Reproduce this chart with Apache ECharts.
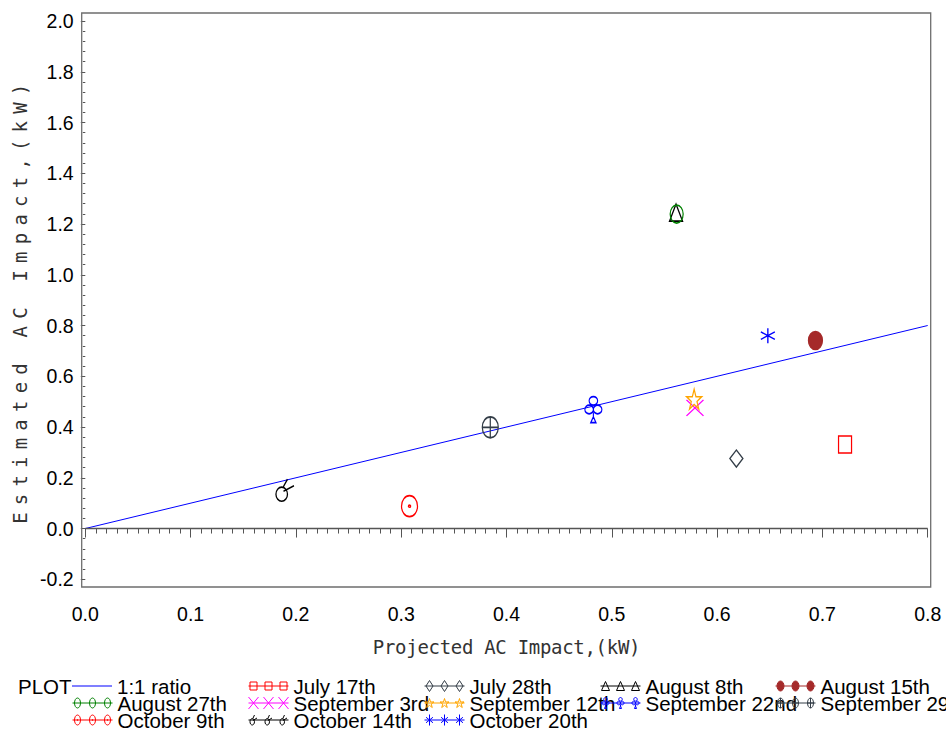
<!DOCTYPE html>
<html>
<head>
<meta charset="utf-8">
<script src="https://cdn.jsdelivr.net/npm/echarts@6/dist/echarts.min.js"></script>
<style>
  html, body { margin: 0; padding: 0; background: #fff; }
  #chart { width: 946px; height: 731px; }
</style>
</head>
<body>
<div id="chart"></div>
<script>
// Estimated vs projected AC impact (kW) for each test day, with the 1:1 reference line.
const dayNames = ['July 17th', 'July 28th', 'August 8th', 'August 15th', 'August 27th',
  'September 3rd', 'September 12th', 'September 22nd', 'September 29th',
  'October 9th', 'October 14th', 'October 20th'];
const projectedKW = [0.7215, 0.6183, 0.561, 0.6934, 0.5616, 0.579, 0.5782, 0.4825, 0.3846, 0.3079, 0.1896, 0.6482];
const estimatedKW = [0.331, 0.2758, 1.245, 0.741, 1.239, 0.4755, 0.510, 0.469, 0.3987, 0.0882, 0.151, 0.760];

const ratioName = '1:1 ratio';
const ratioX = [0, 0.8];
const ratioY = [0, 0.8];

const xTickLabels = ['0.0', '0.1', '0.2', '0.3', '0.4', '0.5', '0.6', '0.7', '0.8'];
const yTickLabels = ['-0.2', '0.0', '0.2', '0.4', '0.6', '0.8', '1.0', '1.2', '1.4', '1.6', '1.8', '2.0'];

const xTitle = 'Projected AC Impact,(kW)';
const yTitle = 'Estimated AC Impact,(kW)';

// ---- marker styling per day ----
const markerShape = ['square', 'diamond', 'triangle', 'dot', 'ring', 'cross', 'star', 'club', 'ringPlus', 'ringDot', 'hook', 'asterisk'];
const markerColor = ['#ff0000', '#333d47', '#000000', '#a52a2a', '#008000', '#ff00ff', '#ffa500', '#0000ff', '#333d47', '#ff0000', '#000000', '#0000ff'];
const markerSize = [[13, 17], [13, 17], [13, 17], [14, 18], [13, 18], [17, 16], [15, 20], [17, 26], [16, 21], [16, 21], [18, 22], [14, 15]];
const legendMarkSize = {
  square: [7, 8], diamond: [7, 11], triangle: [8, 9], dot: [7, 10], ring: [6, 10], cross: [10, 12],
  star: [9, 9], club: [7, 11], ringPlus: [6, 10], ringDot: [6, 10], hook: [7, 10], asterisk: [8, 11]
};

// Shapes in a unit box: 'e' = ellipse (cx, cy, rx, ry), 'p' = polyline (points, closed)
const SHAPES = {
  square: [['p', [0, 0, 1, 0, 1, 1, 0, 1], 1]],
  diamond: [['p', [0.5, 0, 1, 0.5, 0.5, 1, 0, 0.5], 1]],
  triangle: [['p', [0.5, 0, 1, 1, 0, 1], 1]],
  dot: [['e', 0.5, 0.5, 0.5, 0.5]],
  ring: [['e', 0.5, 0.5, 0.5, 0.5]],
  cross: [['p', [0, 0, 1, 1]], ['p', [1, 0, 0, 1]]],
  star: [['p', [0.5, 0, 0.618, 0.382, 1, 0.382, 0.691, 0.618, 0.809, 1, 0.5, 0.764, 0.191, 1, 0.309, 0.618, 0, 0.382, 0.382, 0.382], 1]],
  club: [['e', 0.5, 0.165, 0.25, 0.165], ['e', 0.25, 0.5, 0.25, 0.165], ['e', 0.75, 0.5, 0.25, 0.165],
         ['p', [0.5, 0.62, 0.5, 0.8]], ['p', [0.35, 1, 0.5, 0.78, 0.65, 1], 1]],
  ringPlus: [['e', 0.5, 0.5, 0.5, 0.5], ['p', [0.5, 0, 0.5, 1]], ['p', [0, 0.5, 1, 0.5]]],
  ringDot: [['e', 0.5, 0.5, 0.5, 0.5], ['e', 0.5, 0.5, 0.07, 0.05]],
  hook: [['e', 0.32, 0.68, 0.32, 0.32], ['p', [0.4, 0.36, 0.64, 0]], ['p', [0.42, 0.55, 1, 0.3]]],
  asterisk: [['p', [0.5, 0, 0.5, 1]], ['p', [0.07, 0.25, 0.93, 0.75]], ['p', [0.93, 0.25, 0.07, 0.75]]]
};

function f(n) { return +n.toFixed(2); }

function shapePath(prims, x0, y0, w, h) {
  let d = '';
  prims.forEach(function (p) {
    if (p[0] === 'e') {
      const cx = x0 + p[1] * w, cy = y0 + p[2] * h, rx = p[3] * w, ry = p[4] * h;
      const kx = rx * 0.5523, ky = ry * 0.5523;
      d += 'M' + f(cx) + ',' + f(cy - ry) +
        'C' + f(cx + kx) + ',' + f(cy - ry) + ' ' + f(cx + rx) + ',' + f(cy - ky) + ' ' + f(cx + rx) + ',' + f(cy) +
        'C' + f(cx + rx) + ',' + f(cy + ky) + ' ' + f(cx + kx) + ',' + f(cy + ry) + ' ' + f(cx) + ',' + f(cy + ry) +
        'C' + f(cx - kx) + ',' + f(cy + ry) + ' ' + f(cx - rx) + ',' + f(cy + ky) + ' ' + f(cx - rx) + ',' + f(cy) +
        'C' + f(cx - rx) + ',' + f(cy - ky) + ' ' + f(cx - kx) + ',' + f(cy - ry) + ' ' + f(cx) + ',' + f(cy - ry) + 'Z';
    } else {
      const pts = p[1];
      for (let i = 0; i < pts.length; i += 2) {
        d += (i ? 'L' : 'M') + f(x0 + pts[i] * w) + ',' + f(y0 + pts[i + 1] * h);
      }
      if (p[2]) d += 'Z';
    }
  });
  return d;
}

// legend sample: a short line with three small markers on it
function legendIcon(shape) {
  const sz = legendMarkSize[shape];
  let d = 'M0,6L40,6';
  [5, 20, 35].forEach(function (cx) {
    d += shapePath(SHAPES[shape], cx - sz[0] / 2, 6 - sz[1] / 2, sz[0], sz[1]);
  });
  return 'path://' + d;
}

const FONT = '"Liberation Sans", Arial, sans-serif';
const MONO = '"DejaVu Sans Mono", monospace';

const xMin = parseFloat(xTickLabels[0]);
const xMax = parseFloat(xTickLabels[xTickLabels.length - 1]);
const xStep = parseFloat(xTickLabels[1]) - xMin;
const yMin = parseFloat(yTickLabels[0]);
const yMax = parseFloat(yTickLabels[yTickLabels.length - 1]);
const yStep = parseFloat(yTickLabels[1]) - yMin;

const series = [{
  name: ratioName,
  type: 'line',
  data: ratioX.map(function (x, i) { return [x, ratioY[i]]; }),
  symbol: 'none',
  clip: false,
  lineStyle: { color: '#0000ff', width: 1 },
  itemStyle: { color: '#0000ff' },
  z: 2,
  markLine: {
    silent: true,
    symbol: ['none', 'none'],
    label: { show: false },
    lineStyle: { color: '#555', width: 1.3, type: 'solid' },
    data: [{ yAxis: 0 }]
  }
}];

dayNames.forEach(function (name, i) {
  const shape = markerShape[i];
  const filled = shape === 'dot';
  series.push({
    name: name,
    type: 'scatter',
    data: [[projectedKW[i], estimatedKW[i]]],
    symbol: 'path://' + shapePath(SHAPES[shape], 0, 0, 100, 100),
    symbolSize: markerSize[i],
    itemStyle: {
      color: filled ? markerColor[i] : 'transparent',
      borderColor: markerColor[i],
      borderWidth: 1.4,
      opacity: 1
    },
    z: 3
  });
});

// legend: five fixed columns, filled row by row
const legendNames = [ratioName].concat(dayNames);
const colLeft = [72, 248, 424, 600, 775];
const rowTop = [675.5, 692.5, 709.5];
const legends = legendNames.map(function (name, k) {
  let item;
  if (k === 0) {
    item = { name: name, icon: 'path://M0,5.5L40,5.5L40,6.5L0,6.5Z',
      itemStyle: { color: '#0000ff', borderWidth: 0 } };
  } else {
    const i = k - 1;
    const shape = markerShape[i];
    item = {
      name: name,
      icon: legendIcon(shape),
      itemStyle: {
        color: shape === 'dot' ? markerColor[i] : 'transparent',
        borderColor: markerColor[i],
        borderWidth: 1
      }
    };
  }
  return {
    orient: 'horizontal',
    left: colLeft[k % 5],
    top: rowTop[Math.floor(k / 5)],
    padding: 0,
    itemGap: 0,
    itemWidth: 40,
    itemHeight: 12,
    symbolKeepAspect: true,
    selectedMode: false,
    textStyle: { fontFamily: FONT, fontSize: 20.5, color: '#000' },
    data: [item]
  };
});

const chart = echarts.init(document.getElementById('chart'), null, { renderer: 'svg' });

chart.setOption({
  animation: false,
  backgroundColor: '#fff',
  grid: { left: 85.3, top: 21, width: 842.4, height: 558.3, containLabel: false },
  xAxis: {
    type: 'value',
    min: xMin, max: xMax, interval: xStep,
    offset: 7.7,
    axisLine: { show: false },
    axisTick: { show: true, length: 9, lineStyle: { color: '#555', width: 1 } },
    minorTick: { show: true, splitNumber: 10, length: 5, lineStyle: { color: '#555', width: 1 } },
    splitLine: { show: false },
    axisLabel: {
      margin: 17, color: '#000', fontFamily: FONT, fontSize: 19.5,
      formatter: function (v) { return xTickLabels[Math.round((v - xMin) / xStep)]; }
    },
    name: xTitle,
    nameLocation: 'middle',
    nameGap: 50,
    nameTextStyle: { fontFamily: MONO, fontSize: 19, color: '#333' }
  },
  yAxis: {
    type: 'value',
    min: yMin, max: yMax, interval: yStep,
    offset: 3.6,
    axisLine: { show: false },
    axisTick: { show: true, length: 4.5, lineStyle: { color: '#555', width: 1 } },
    minorTick: { show: true, splitNumber: 5, length: 2.5, lineStyle: { color: '#555', width: 1 } },
    splitLine: { show: false },
    axisLabel: {
      margin: 8, color: '#000', fontFamily: FONT, fontSize: 19.5,
      formatter: function (v) { return yTickLabels[Math.round((v - yMin) / yStep)]; }
    },
    name: yTitle,
    nameLocation: 'middle',
    nameRotate: 90,
    nameGap: 50,
    nameTextStyle: { fontFamily: MONO, fontSize: 19, color: '#333' }
  },
  legend: legends,
  graphic: [
    {
      type: 'rect', silent: true, z: 1,
      shape: { x: 81.7, y: 13, width: 849, height: 574 },
      style: { fill: 'none', stroke: '#6e6e6e', lineWidth: 1.3 }
    },
    {
      type: 'text', silent: true, x: 18, y: 686,
      style: { text: 'PLOT', fontFamily: FONT, fontSize: 20.5, fill: '#000', verticalAlign: 'middle' }
    }
  ],
  series: series
});

// axis titles: the vertical one is set with wide letter spacing
function spaceTitles() {
  document.querySelectorAll('#chart svg text').forEach(function (t) {
    if (t.textContent === yTitle) t.style.letterSpacing = '7.2px';
    if (t.textContent === xTitle) t.style.letterSpacing = '-0.3px';
  });
}
chart.on('finished', spaceTitles);
spaceTitles();
</script>
</body>
</html>
